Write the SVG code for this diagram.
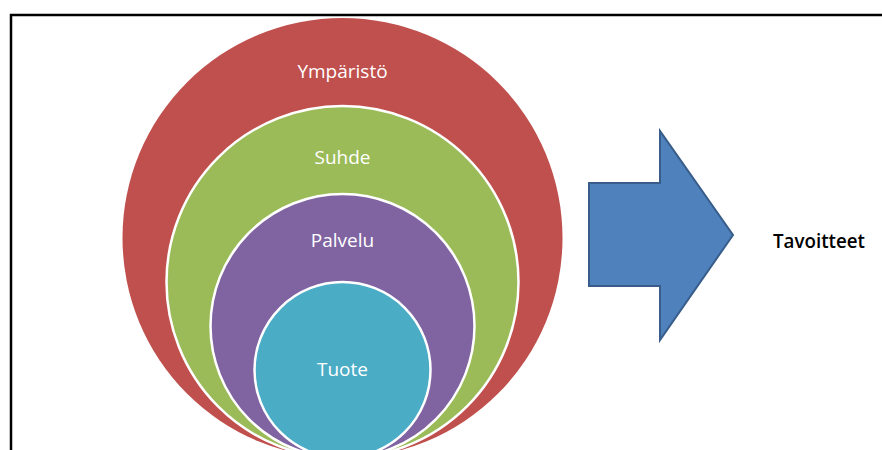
<svg xmlns="http://www.w3.org/2000/svg" width="882" height="450" viewBox="0 0 882 450">
  <style>
    .ring { stroke: #ffffff; stroke-width: 2.5; }
    .lbl { font-family: "Open Sans", "Noto Sans", sans-serif; font-size: 19px; fill: #ffffff; text-anchor: middle; }
    .goal { font-family: "Open Sans", "Noto Sans", sans-serif; font-size: 20px; fill: #000000; font-weight: 600; }
  </style>
  <rect width="882" height="450" fill="#ffffff"/>
  <!-- frame, runs off the right and bottom edges -->
  <rect x="11" y="15" width="900" height="500" fill="none" stroke="#000000" stroke-width="2.5"/>

  <g id="ymparisto">
    <circle cx="342.5" cy="238" r="220" fill="#C0504D"/>
    <text class="lbl" x="342.5" y="78">Ympäristö</text>
  </g>
  <g id="suhde">
    <circle class="ring" cx="342.5" cy="282" r="176" fill="#9BBB59"/>
    <text class="lbl" x="342.5" y="164">Suhde</text>
  </g>
  <g id="palvelu">
    <circle class="ring" cx="342.5" cy="326" r="132" fill="#8064A2"/>
    <text class="lbl" x="342.5" y="247">Palvelu</text>
  </g>
  <g id="tuote">
    <circle class="ring" cx="342.5" cy="370" r="88" fill="#4BACC6"/>
    <text class="lbl" x="342.5" y="376">Tuote</text>
  </g>

  <g id="connectors">
    <polygon points="589,183 660,183 660,131 733,235 660,340 660,286 589,286" fill="#4F81BD" stroke="#385D8A" stroke-width="2" stroke-linejoin="miter"/>
  </g>

  <g id="tavoitteet">
    <text class="goal" x="773" y="248" textLength="92" lengthAdjust="spacingAndGlyphs">Tavoitteet</text>
  </g>
</svg>
